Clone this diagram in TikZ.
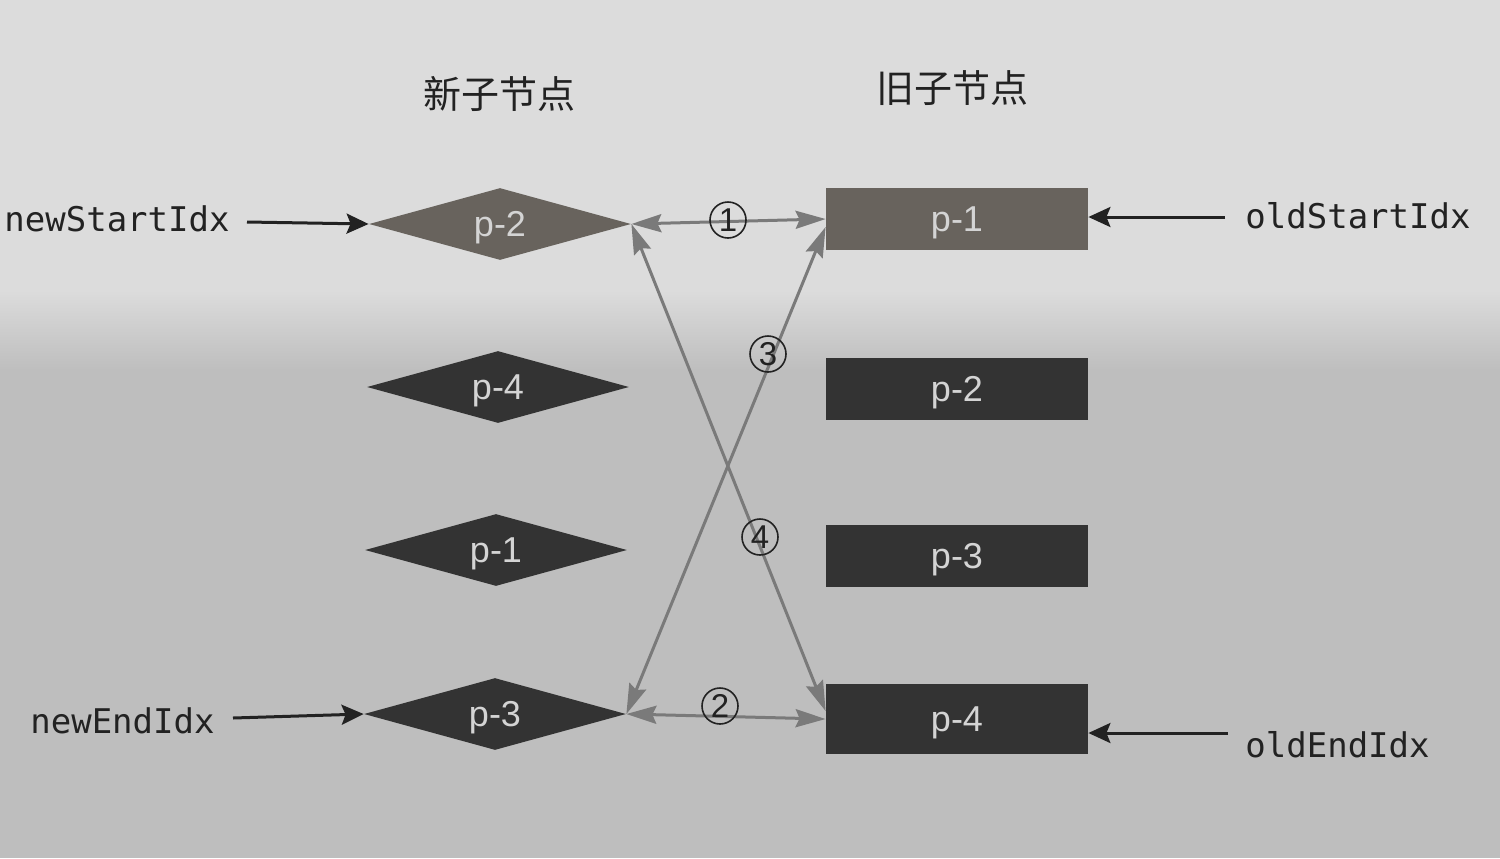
\documentclass[tikz,border=0pt]{standalone}
\usepackage{fontspec}
\setmainfont{Liberation Sans}
\newfontfamily\cjk{Noto Sans CJK SC}
\newfontfamily\monof{DejaVu Sans Mono}
\usetikzlibrary{shapes.geometric,arrows.meta,calc}
\definecolor{bgtop}{HTML}{DCDCDC}
\definecolor{bgbot}{HTML}{BEBEBE}
\definecolor{nodebrown}{HTML}{68635D}
\definecolor{nodedark}{HTML}{333333}
\definecolor{linkc}{HTML}{7A7A7A}
\definecolor{ntext}{HTML}{D4D4D4}
\definecolor{ink}{HTML}{222222}
\begin{document}
\begin{tikzpicture}[x=0.5pt,y=-0.5pt,
  dia/.style={diamond, aspect=3.6, minimum width=131pt, minimum height=36pt, inner sep=0pt,
    text depth=0pt, fill=nodedark, text=ntext, font=\fontsize{18}{18}\selectfont},
  box/.style={rectangle, minimum width=131pt, minimum height=31pt, inner sep=0pt,
    text depth=0pt, fill=nodedark, text=ntext, font=\fontsize{18}{18}\selectfont},
  idx/.style={font=\monof\fontsize{17}{17}\selectfont, text=ink, inner sep=0pt},
  title/.style={font=\cjk\fontsize{19}{19}\selectfont, text=ink},
  ptr/.style={-{Stealth[length=11pt,width=10pt,inset=2pt]}, line width=1.5pt, draw=ink},
  link/.style={{Stealth[length=15pt,width=9pt,inset=2pt]}-{Stealth[length=15pt,width=9pt,inset=2pt]},
    line width=1.5pt, draw=linkc},
  num/.style={circle, draw=ink, line width=0.8pt, inner sep=0pt, minimum size=18pt,
    text=ink, font=\fontsize{16.5}{16.5}\selectfont}
]
% background (paper with shadow)
\useasboundingbox (0,0) rectangle (1500,858);
\fill[bgtop] (0,0) rectangle (1500,290);
\shade[top color=bgtop, bottom color=bgbot] (0,290) rectangle (1500,370);
\fill[bgbot] (0,370) rectangle (1500,858);

% titles
\node[title] (tnew) at (499,94) {新子节点};
\node[title] (told) at (952,88) {旧子节点};

% new children (diamonds)
\node[dia, fill=nodebrown] (n1) at (500,224) {p-2};
\node[dia] (n2) at (498,387) {p-4};
\node[dia] (n3) at (496,550) {p-1};
\node[dia] (n4) at (495,714) {p-3};

% old children (boxes)
\node[box, fill=nodebrown] (o1) at (957,219) {p-1};
\node[box] (o2) at (957,389) {p-2};
\node[box] (o3) at (957,556) {p-3};
\node[box, minimum height=35pt] (o4) at (957,719) {p-4};

% index labels
\node[idx, anchor=east] (lns) at (230,219) {newStartIdx};
\node[idx, anchor=east] (lne) at (215,721) {newEndIdx};
\node[idx, anchor=west] (los) at (1245,216) {oldStartIdx};
\node[idx, anchor=west] (loe) at (1245,745) {oldEndIdx};

\coordinate (ans) at (247,222);
\coordinate (ane) at (233,718);
\coordinate (aos) at (1225,217);
\coordinate (aoe) at (1228,733);

\draw[ptr] (ans) -- (n1.west);
\draw[ptr] (ane) -- (n4.west);
\draw[ptr] (aos) -- (aos -| o1.east);
\draw[ptr] (aoe) -- (aoe -| o4.east);

% comparison links
\draw[link] (n1.east) -- (o1.west);
\draw[link] (n4.east) -- (o4.west);
\draw[link] (n4.east) -- ($(o1.west)+(0,8)$);
\draw[link] (n1.east) -- ($(o4.west)+(0,-8)$);

% step numbers
\node[num] (c1) at (728,220) {1};
\node[num] (c2) at (720,706) {2};
\node[num] (c3) at (768,354) {3};
\node[num] (c4) at (760,537) {4};
\end{tikzpicture}
\end{document}
